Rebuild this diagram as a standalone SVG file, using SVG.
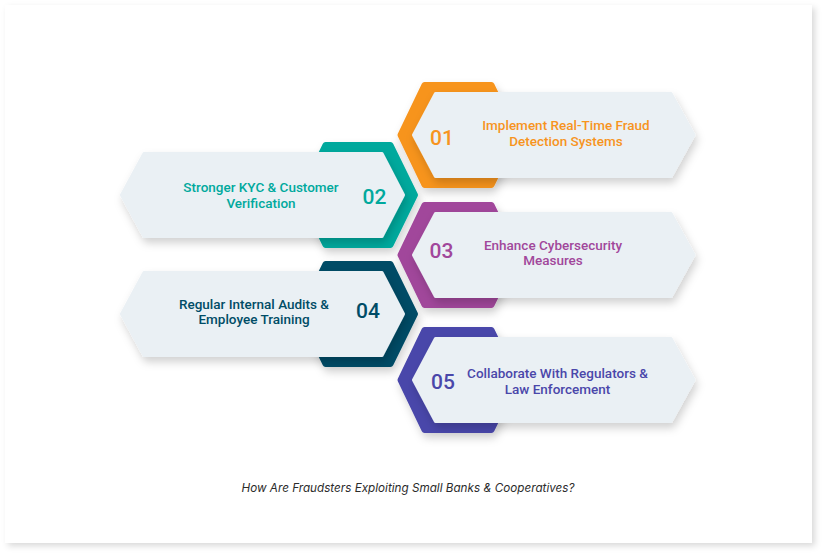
<svg xmlns="http://www.w3.org/2000/svg" width="826" height="558" viewBox="0 0 826 558">
<style>
.lt{fill:#EAF0F4;stroke:#EAF0F4;stroke-width:3;stroke-linejoin:round}
.band{stroke-width:6;stroke-linejoin:round}
.t{font-family:Roboto,"Liberation Sans",sans-serif;font-weight:500;font-size:13.5px;text-anchor:middle}
.n{font-family:Roboto,"Liberation Sans",sans-serif;font-weight:500;font-size:21px;text-anchor:middle}
.cap{font-family:Inter,"Liberation Sans",sans-serif;font-style:italic;font-size:11.7px;fill:#2b2b2b;text-anchor:middle}
</style>
<defs>
<filter id="sh" x="-10%" y="-20%" width="125%" height="150%">
<feDropShadow dx="2" dy="5" stdDeviation="4" flood-color="#000" flood-opacity="0.18"/>
</filter>
<filter id="cs" x="-5%" y="-5%" width="110%" height="115%">
<feDropShadow dx="3" dy="3" stdDeviation="3" flood-color="#000" flood-opacity="0.15"/>
</filter>
<polygon id="rb" points="424.5,-50 491.5,-50 516,0 491.5,50 424.5,50 400.5,0"/>
<polygon id="rl" points="435.5,-41.5 671,-41.5 694,0 671,41.5 435.5,41.5 413.5,0"/>
<polygon id="lb" points="325.5,-50 390.5,-50 415,0 390.5,50 325.5,50 301,0"/>
<polygon id="ll" points="144,-41.5 382,-41.5 403.5,0 382,41.5 144,41.5 121.5,0"/>
</defs>
<rect x="5" y="5" width="807" height="538" fill="#ffffff" filter="url(#cs)"/>
<g id="node01" transform="translate(0,135)">
<use href="#rb" class="band" fill="#F7941E" stroke="#F7941E" filter="url(#sh)"/>
<use href="#rl" class="lt" filter="url(#sh)"/>
<text class="n" x="442" y="10" fill="#F7941E">01</text>
<text class="t" x="566" y="-5" fill="#F7941E">Implement Real-Time Fraud</text>
<text class="t" x="566" y="11" fill="#F7941E">Detection Systems</text>
</g>
<g id="node02" transform="translate(0,195)">
<use href="#lb" class="band" fill="#00A99D" stroke="#00A99D" filter="url(#sh)"/>
<use href="#ll" class="lt" filter="url(#sh)"/>
<text class="n" x="374.5" y="8.5" fill="#00A99D">02</text>
<text class="t" x="261" y="-3" fill="#00A99D">Stronger KYC &amp; Customer</text>
<text class="t" x="261" y="13" fill="#00A99D">Verification</text>
</g>
<g id="node03" transform="translate(0,255)">
<use href="#rb" class="band" fill="#A1479B" stroke="#A1479B" filter="url(#sh)"/>
<use href="#rl" class="lt" filter="url(#sh)"/>
<text class="n" x="441.5" y="3" fill="#A1479B">03</text>
<text class="t" x="553" y="-5" fill="#A1479B">Enhance Cybersecurity</text>
<text class="t" x="553" y="10" fill="#A1479B">Measures</text>
</g>
<g id="node04" transform="translate(0,314)">
<use href="#lb" class="band" fill="#004C66" stroke="#004C66" filter="url(#sh)"/>
<use href="#ll" class="lt" filter="url(#sh)"/>
<text class="n" x="368" y="4" fill="#004C66">04</text>
<text class="t" x="254" y="-5" fill="#004C66">Regular Internal Audits &amp;</text>
<text class="t" x="254" y="10" fill="#004C66">Employee Training</text>
</g>
<g id="node05" transform="translate(0,380)">
<use href="#rb" class="band" fill="#4A47AA" stroke="#4A47AA" filter="url(#sh)"/>
<use href="#rl" class="lt" filter="url(#sh)"/>
<text class="n" x="443" y="9" fill="#4A47AA">05</text>
<text class="t" x="557.5" y="-2" fill="#4A47AA">Collaborate With Regulators &amp;</text>
<text class="t" x="557.5" y="13.5" fill="#4A47AA">Law Enforcement</text>
</g>
<g id="connectors"></g>
<text class="cap" x="408" y="492">How Are Fraudsters Exploiting Small Banks &amp; Cooperatives?</text>
</svg>
